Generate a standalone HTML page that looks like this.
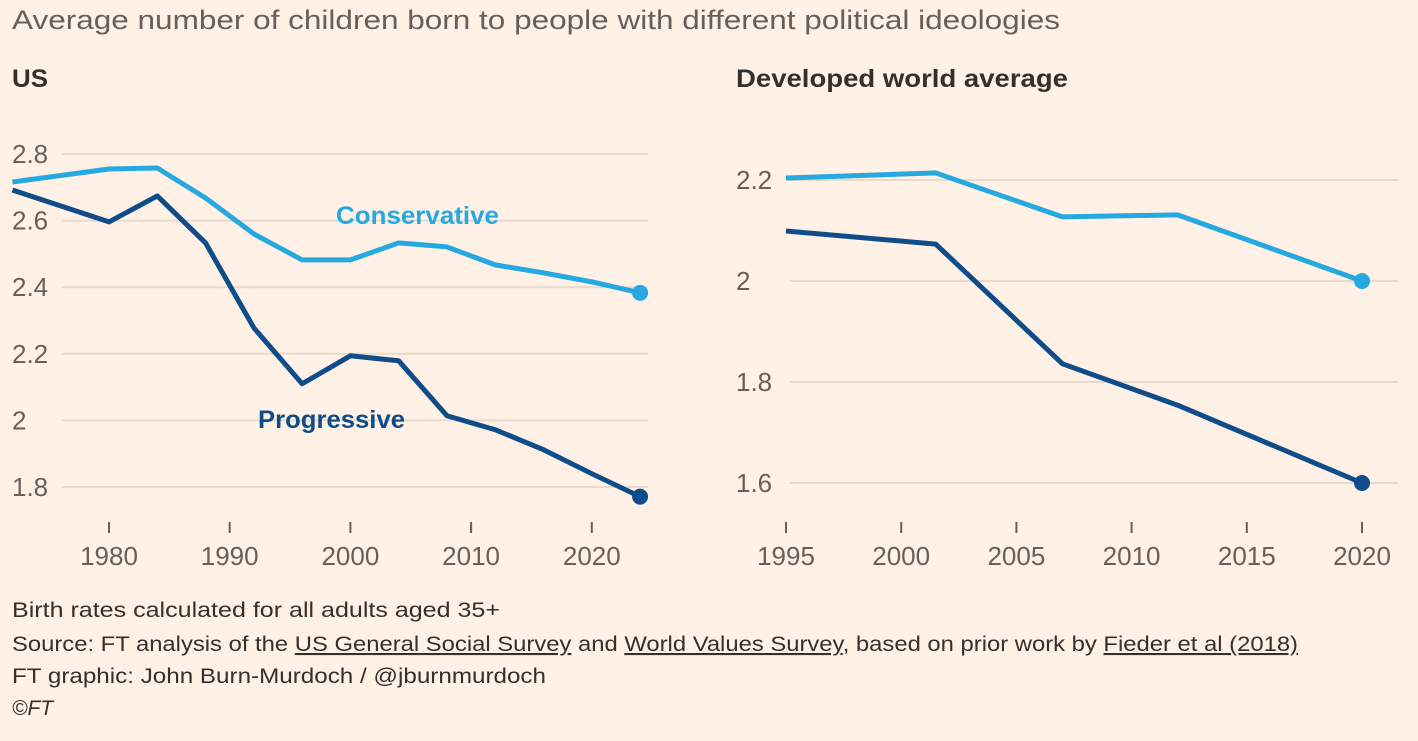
<!DOCTYPE html>
<html><head><meta charset="utf-8">
<style>
body{margin:0;background:#fff1e5;width:1418px;height:736px;overflow:hidden;font-family:"Liberation Sans",sans-serif;}
svg text{font-family:"Liberation Sans",sans-serif;}
</style></head>
<body>
<svg id="c" width="1418" height="736" xmlns="http://www.w3.org/2000/svg">
<text x="12" y="29" font-size="27" fill="#66605c" textLength="1048" lengthAdjust="spacingAndGlyphs">Average number of children born to people with different political ideologies</text>
<text x="12" y="87" font-size="25" font-weight="bold" fill="#33302e" textLength="36" lengthAdjust="spacingAndGlyphs">US</text>
<text x="736" y="87" font-size="25" font-weight="bold" fill="#33302e" textLength="332" lengthAdjust="spacingAndGlyphs">Developed world average</text>
<g id="left"></g>
<g id="right"></g>
<g font-size="21" fill="#33302e">
<text x="12" y="617" textLength="488" lengthAdjust="spacingAndGlyphs">Birth rates calculated for all adults aged 35+</text>
<text x="12" y="651" textLength="1286" lengthAdjust="spacingAndGlyphs">Source: FT analysis of the <tspan text-decoration="underline">US General Social Survey</tspan> and <tspan text-decoration="underline">World Values Survey</tspan>, based on prior work by <tspan text-decoration="underline">Fieder et al (2018)</tspan></text>
<text x="12" y="683" textLength="534" lengthAdjust="spacingAndGlyphs">FT graphic: John Burn-Murdoch / @jburnmurdoch</text>
<text x="12" y="715" font-style="italic">©FT</text>
</g>
</svg>
<script>
const usYears=[1972,1980,1984,1988,1992,1996,2000,2004,2008,2012,2016,2020,2024];
const usCons=[2.716,2.755,2.758,2.668,2.56,2.482,2.482,2.533,2.521,2.467,2.443,2.416,2.383];
const usProg=[2.692,2.596,2.674,2.533,2.278,2.11,2.194,2.179,2.014,1.972,1.912,1.84,1.771];
const usYTicks=[2.8,2.6,2.4,2.2,2,1.8];
const usXTicks=[1980,1990,2000,2010,2020];
const wYears=[1995,2001.5,2007,2012,2020];
const wCons=[2.204,2.214,2.127,2.131,2.0];
const wProg=[2.099,2.073,1.836,1.754,1.6];
const wYTicks=[2.2,2,1.8,1.6];
const wXTicks=[1995,2000,2005,2010,2015,2020];
const NS='http://www.w3.org/2000/svg';
const CC='#26a9e0',PC='#0f4c8a';
function mk(p,t,a){const e=document.createElementNS(NS,t);for(const k in a)e.setAttribute(k,a[k]);p.appendChild(e);return e;}
function panel(g,cfg){
 const X=v=>cfg.x0+(v-cfg.xv0)*cfg.xs, Y=v=>cfg.y0-(v-cfg.yv0)*cfg.ys;
 cfg.yt.forEach(t=>{
  const l=mk(g,'line',{x1:cfg.gx,x2:cfg.right,y1:Y(t),y2:Y(t),stroke:'#e6d9ce','stroke-width':2});
  
  
  const tx=mk(g,'text',{x:cfg.lx,y:Y(t)+9,'font-size':26,fill:'#66605c'});tx.textContent=String(t);
  
  
 });
 cfg.xt.forEach(t=>{
  const l=mk(g,'line',{x1:X(t),x2:X(t),y1:cfg.tickY,y2:cfg.tickY+11,stroke:'#66605c','stroke-width':2});
  
  
  const tx=mk(g,'text',{x:X(t),y:cfg.tickY+43,'font-size':26,fill:'#66605c','text-anchor':'middle'});tx.textContent=String(t);
  
  
 });
 [[cfg.cons,CC,'conservative-line'],[cfg.prog,PC,'progressive-line']].forEach(([d,c,n])=>{
  const pts=d.map((v,i)=>X(cfg.years[i])+','+Y(v)).join(' ');
  const pl=mk(g,'polyline',{points:pts,fill:'none',stroke:c,'stroke-width':5,'stroke-linejoin':'round'});
  
  
  const last=d.length-1;
  const ci=mk(g,'circle',{cx:X(cfg.years[last]),cy:Y(d[last]),r:8,fill:c});
  
  
 });
}
panel(document.getElementById('left'),{years:usYears,cons:usCons,prog:usProg,yt:usYTicks,xt:usXTicks,
 x0:109,xv0:1980,xs:12.07,y0:154,yv0:2.8,ys:333,gx:62,lx:12,right:648,tickY:522});
panel(document.getElementById('right'),{years:wYears,cons:wCons,prog:wProg,yt:wYTicks,xt:wXTicks,
 x0:786,xv0:1995,xs:23.04,y0:180,yv0:2.2,ys:505,gx:790,lx:736,right:1398,tickY:522});
const L=document.getElementById('left');
const a=mk(L,'text',{x:336,y:224,'font-size':25,'font-weight':'bold',fill:CC,textLength:163,lengthAdjust:'spacingAndGlyphs'});a.textContent='Conservative';


const b=mk(L,'text',{x:258,y:428,'font-size':25,'font-weight':'bold',fill:PC,textLength:147,lengthAdjust:'spacingAndGlyphs'});b.textContent='Progressive';


</script>
</body></html>
